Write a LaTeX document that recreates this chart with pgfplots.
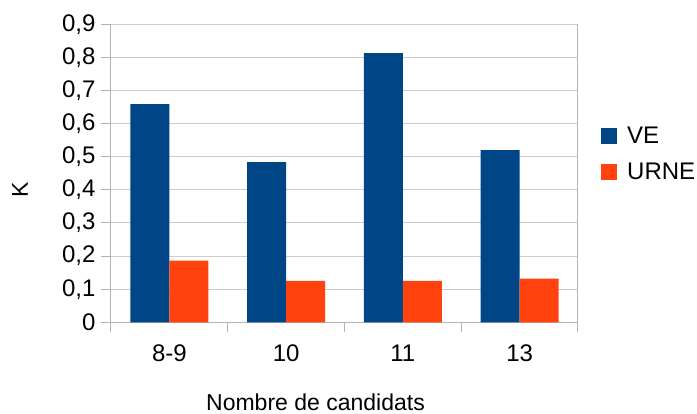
\documentclass[border=0pt]{standalone}
\usepackage{pgfplots}
\pgfplotsset{compat=1.18}
\usepackage{fontspec}
\setmainfont{Liberation Sans}
\definecolor{ve}{HTML}{004586}
\definecolor{urne}{HTML}{FF420E}
\definecolor{axgray}{HTML}{B3B3B3}
\definecolor{grgray}{HTML}{CCCCCC}
\begin{document}
\begin{tikzpicture}
\useasboundingbox (-111pt,-91.7pt) rectangle (586pt,322.3pt);
\begin{axis}[
  scale only axis,
  width=467pt, height=298pt,
  xmin=-0.5, xmax=3.5,
  ymin=0, ymax=0.9,
  xtick={0,1,2,3},
  xticklabels={8-9,10,11,13},
  major x tick style={draw=none},
  minor xtick={-0.5,0.5,1.5,2.5,3.5},
  minor tick length=10pt,
  ytick={0,0.1,...,0.9},
  major tick length=10pt,
  tick align=outside,
  tick style={axgray, line width=1pt},
  ymajorgrids,
  grid style={grgray, line width=1pt},
  axis line style={axgray, line width=1pt},
  axis x line*=bottom,
  axis y line*=left,
  /pgf/number format/fixed,
  /pgf/number format/precision=1,
  /pgf/number format/use comma,
  /pgf/number format/assume math mode=true,
  ticklabel style={font=\fontsize{24}{28}\selectfont},
  xticklabel style={yshift=-9pt},
  yticklabel style={xshift=-2pt},
  xlabel={Nombre de candidats},
  ylabel={K},
  label style={font=\fontsize{23}{27}\selectfont},
  xlabel style={at={(axis description cs:0.5,0)}, anchor=center, yshift=-79.5pt, xshift=-29pt},
  ylabel style={at={(axis description cs:0,0.5)}, anchor=center, yshift=91pt, xshift=-17pt},
  legend style={at={(axis description cs:1,0.565)}, anchor=west, xshift=23pt, draw=none, fill=none,
    font=\fontsize{24}{28}\selectfont, row sep=14pt, inner sep=0pt,
    /tikz/every odd column/.style={column sep=8pt}},
  legend cell align=left,
  ybar,
  bar width=0.334,
  every axis plot/.append style={draw=none},
]
\draw[axgray, line width=1pt] (axis cs:3.5,0) -- (axis cs:3.5,0.9);
\addplot[fill=ve, bar shift=-0.167, area legend,
  legend image code/.code={\fill[ve] (0pt,-8pt) rectangle (16pt,8pt);}]
  coordinates {(0,0.659) (1,0.484) (2,0.813) (3,0.520)};
\addplot[fill=urne, bar shift=0.167, area legend,
  legend image code/.code={\fill[urne] (0pt,-8pt) rectangle (16pt,8pt);}]
  coordinates {(0,0.186) (1,0.125) (2,0.125) (3,0.132)};
\legend{VE,URNE}
\end{axis}
\end{tikzpicture}
\end{document}
